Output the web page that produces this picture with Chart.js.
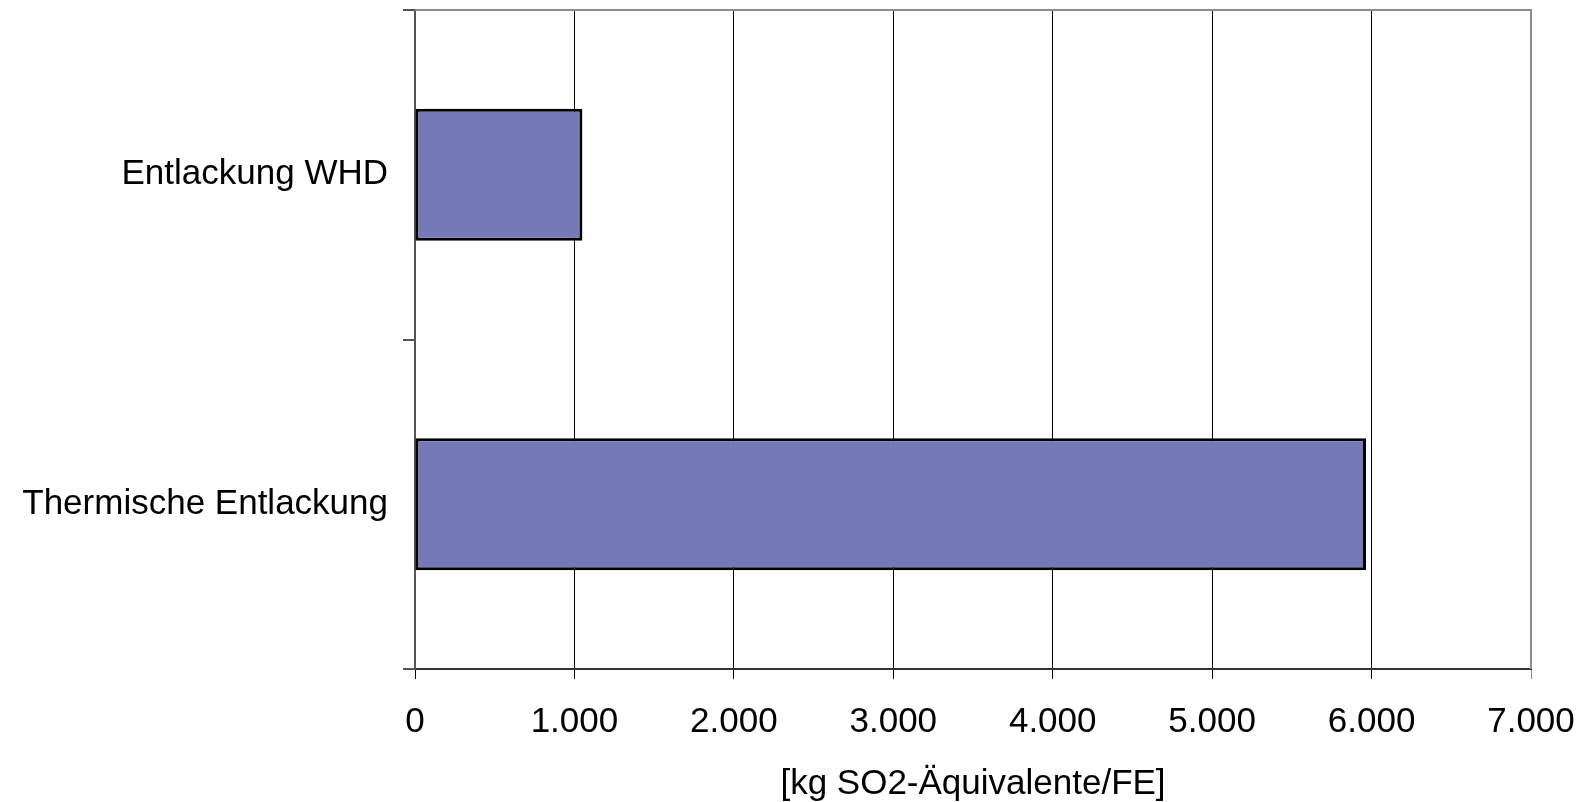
<!DOCTYPE html>
<html>
<head>
<meta charset="utf-8">
<title>Entlackung</title>
<script src="https://cdn.jsdelivr.net/npm/chart.js@4.4.0/dist/chart.umd.min.js"></script>
<style>
  html, body { margin: 0; padding: 0; background: #fff; }
  #wrap { width: 1583px; height: 802px; }
</style>
</head>
<body>
<div id="wrap"><canvas id="chart"></canvas></div>
<script>
var categories = ["Entlackung WHD", "Thermische Entlackung"];
var values = [1050, 5965];
var xTicks = [0, 1000, 2000, 3000, 4000, 5000, 6000, 7000];
var xTitle = "[kg SO2-Äquivalente/FE]";

function fmt(v) {
	return String(v).replace(/\B(?=(\d{3})+(?!\d))/g, ".");
}

// gray frame on top and right side of the plot
var framePlugin = {
	id: 'frame',
	afterDraw: function(chart) {
		var a = chart.chartArea, c = chart.ctx;
		c.save();
		c.strokeStyle = '#8c8c8c';
		c.lineWidth = 2;
		c.beginPath();
		c.moveTo(a.left, a.top);
		c.lineTo(a.right, a.top);
		c.lineTo(a.right, a.bottom);
		c.stroke();
		c.restore();
	}
};

var ctx = document.getElementById('chart');
var chart = new Chart(ctx, {
	type: 'bar',
	data: {
		labels: categories,
		datasets: [{
			data: values,
			backgroundColor: '#7579b8',
			borderColor: '#000',
			borderWidth: 3,
			borderSkipped: false,
			categoryPercentage: 1,
			barPercentage: 0.4
		}]
	},
	options: {
		indexAxis: 'y',
		responsive: true,
		maintainAspectRatio: false,
		animation: false,
		layout: { padding: { top: 10, right: 52, left: 0, bottom: 0 } },
		plugins: {
			legend: { display: false },
			tooltip: { enabled: false }
		},
		scales: {
			x: {
				min: 0,
				max: 7000,
				afterBuildTicks: function(scale) {
					scale.ticks = xTicks.map(function(v) { return { value: v }; });
				},
				afterFit: function(scale) {
					scale.height = 133;
					scale.paddingLeft = 0;
					scale.paddingRight = 0;
				},
				border: { color: '#333', width: 2 },
				grid: {
					color: function(c) { return c.index === xTicks.length - 1 ? '#8c8c8c' : '#000'; },
					lineWidth: 1,
					tickLength: 10
				},
				ticks: {
					color: '#000',
					padding: 22,
					font: { family: 'Liberation Sans', size: 35 },
					callback: function(v) { return fmt(v); }
				},
				title: {
					display: true,
					text: xTitle,
					color: '#000',
					font: { family: 'Liberation Sans', size: 35 },
					padding: { top: 0, bottom: -3 }
				}
			},
			y: {
				afterFit: function(scale) {
					scale.width = 415;
					scale.paddingTop = 0;
					scale.paddingBottom = 0;
				},
				border: { color: '#555', width: 2 },
				grid: {
					drawOnChartArea: false,
					color: '#555',
					tickLength: 12,
					lineWidth: 2
				},
				ticks: {
					color: '#000',
					padding: 15,
					font: { family: 'Liberation Sans', size: 35 }
				}
			}
		}
	},
	plugins: [framePlugin]
});
</script>
</body>
</html>
